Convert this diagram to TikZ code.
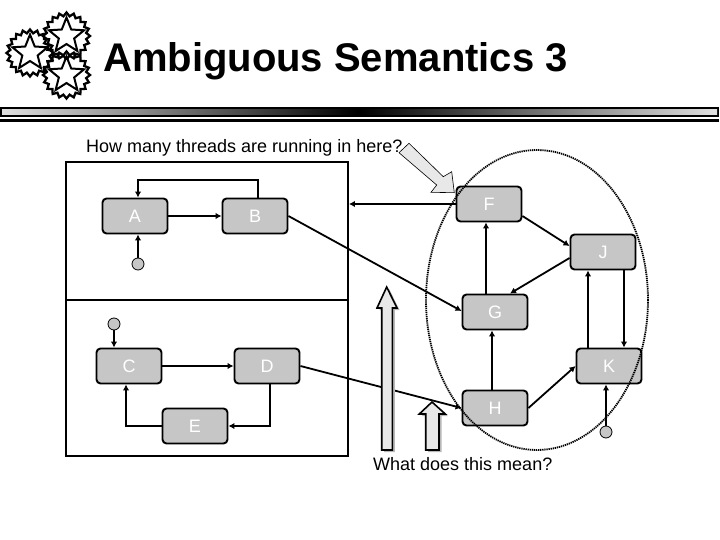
\documentclass[tikz,border=0pt]{standalone}
\usepackage{fontspec}
\setmainfont{Liberation Sans}
\usetikzlibrary{arrows.meta,shapes.geometric,calc}
\definecolor{nodegray}{HTML}{C6C6C6}
\definecolor{hollow}{HTML}{E8E8E8}
\definecolor{shadowgray}{HTML}{B8B8B8}
\tikzset{
  x=1pt,y=-1pt,
  state/.style={draw=black,line width=1.9pt,fill=nodegray,rounded corners=4pt,minimum width=65pt,minimum height=35pt,inner sep=0pt,text=white,font=\fontsize{18}{18}\selectfont},
  region/.style={draw=black,line width=1.9pt,minimum width=282pt,inner sep=0pt},
  startdot/.style={circle,draw=black,line width=0.8pt,fill=nodegray,minimum size=12pt,inner sep=0pt},
  conn/.style={line width=1.8pt,-{Latex[length=6pt,width=6.5pt]}},
  hollowarrow/.style={draw=black,line width=1.6pt,fill=hollow},
  shadowshape/.style={fill=shadowgray,draw=none},
  ring/.style={star,star points=20,star point ratio=1.18,draw=black,line width=2.3pt,minimum size=47pt,inner sep=0pt},
  innerstar/.style={star,star points=5,star point ratio=2.3,draw=black,line width=2pt,fill=white,minimum size=37pt,inner sep=0pt},
  txt/.style={inner sep=0pt,anchor=base west,font=\fontsize{18}{20}\selectfont},
}
\begin{document}
\begin{tikzpicture}
\useasboundingbox (0,0) rectangle (720,540);
\fill[white] (0,0) rectangle (720,540);

% logo
\foreach \n/\cx/\cy in {s1/30/53,s2/66.5/36,s3/66.5/75}{
  \node[ring] (\n) at (\cx,\cy) {};
  \node[innerstar] (\n i) at (\cx,\cy) {};
}
% title
\node[inner sep=0pt,anchor=base west,font=\bfseries\fontsize{40}{42}\selectfont] (title) at (103,72) {Ambiguous Semantics 3};

% rule
\fill[black] (0,107) rectangle (719,117);
\shade[left color=black!12,right color=black] (2,109.3) rectangle (358,115);
\shade[left color=black,right color=black!12] (358,109.3) rectangle (717,115);
\fill[black] (0,119) rectangle (719,122.5);

% labels
\node[txt] (q1) at (86,152.5) {How many threads are running in here?};
\node[txt] (q2) at (373,470.5) {What does this mean?};

% regions
\node[region,minimum height=138pt] (top) at (207,231) {};
\node[region,minimum height=156pt] (bot) at (207,378) {};

% states
\node[state] (A) at (135,216) {A};
\node[state] (B) at (255,216) {B};
\node[state] (C) at (129,366) {C};
\node[state] (D) at (267,366) {D};
\node[state] (E) at (195,426) {E};
\node[state] (F) at (489,204) {F};
\node[state] (J) at (603,252) {J};
\node[state] (G) at (495,312) {G};
\node[state] (H) at (495,408) {H};
\node[state] (K) at (609,366) {K};

% start dots
\node[startdot] (sa) at (138,264) {};
\node[startdot] (sc) at (114,324) {};
\node[startdot] (sk) at (606,432) {};

% named anchor points
\coordinate (Bt) at ($(B.north)+(3,0)$);
\coordinate (At) at ($(A.north)+(3,0)$);
\coordinate (Ab) at ($(A.south)+(3,0)$);
\coordinate (Ct) at ($(C.north)+(-15,0)$);
\coordinate (Cb) at ($(C.south)+(-3,0)$);
\coordinate (Db) at ($(D.south)+(3,0)$);
\coordinate (Gt) at ($(G.north)+(-9,0)$);
\coordinate (Gb) at ($(G.south)+(-3,0)$);
\coordinate (Gtr) at ($(G.north)+(15,0)$);
\coordinate (Gl) at ($(G.west)+(0,-1)$);
\coordinate (Hl) at ($(H.west)$);
\coordinate (Ht) at ($(H.north)+(-3,0)$);
\coordinate (Hr) at ($(H.east)$);
\coordinate (Fb) at ($(F.south)+(-3,0)$);
\coordinate (Fr) at ($(F.east)+(0,12)$);
\coordinate (Jl) at ($(J.west)+(0,-6)$);
\coordinate (Jl2) at ($(J.west)+(0,6)$);
\coordinate (Jbl) at ($(J.south)+(-15,0)$);
\coordinate (Jbr) at ($(J.south)+(21,0)$);
\coordinate (Ktl) at ($(K.north)+(-21,0)$);
\coordinate (Ktr) at ($(K.north)+(15,0)$);
\coordinate (Kb) at ($(K.south)+(-3,0)$);

% connectors
\draw[conn] (A.east) -- (B.west);
\draw[conn] (Bt) -- (Bt |- 0,180) -- (At |- 0,180) -- (At);
\draw[conn] (sa) -- (Ab);
\draw[conn] (sc) -- (Ct);
\draw[conn] (C.east) -- (D.west);
\draw[conn] (Db) |- (E.east);
\draw[conn] (E.west) -| (Cb);
\draw[conn] (F.west) -- (F.west -| top.east);
\draw[conn] (B.east) -- (Gl);
\draw[conn] (D.east) -- (Hl);
\draw[conn] (Ht) -- (Gb);
\draw[conn] (Gt) -- (Fb);
\draw[conn] (Fr) -- (Jl);
\draw[conn] (Jl2) -- (Gtr);
\draw[conn] (Ktl) -- (Jbl);
\draw[conn] (Jbr) -- (Ktr);
\draw[conn] (Hr) -- (K.west);
\draw[conn] (sk) -- (Kb);

% hollow arrows
\begin{scope}[shift={(2.5,2)}]
\fill[shadowshape] (386.7,287)--(397,308)--(392.3,308)--(392.3,450)--(381.7,450)--(381.7,308)--(377,308)--cycle;
\fill[shadowshape] (432,402)--(445.3,414)--(439,414)--(439,450)--(425.7,450)--(425.7,414)--(419.3,414)--cycle;
\end{scope}
\draw[hollowarrow] (386.7,287)--(397,308)--(392.3,308)--(392.3,450)--(381.7,450)--(381.7,308)--(377,308)--cycle;
\draw[hollowarrow] (432,402)--(445.3,414)--(439,414)--(439,450)--(425.7,450)--(425.7,414)--(419.3,414)--cycle;
\draw[draw=black,line width=0.6pt,fill=hollow] (399,152.7)--(409,143.3)--(443.3,176.7)--(451.7,171.7)--(454.3,192.7)--(431,192.3)--(436.7,185)--cycle;

% ellipse
\node[ellipse,draw=black,line width=1.8pt,dash pattern=on 1.3pt off 0.8pt,minimum width=222pt,minimum height=300pt,inner sep=0pt] (oval) at (537,300) {};
\end{tikzpicture}
\end{document}
